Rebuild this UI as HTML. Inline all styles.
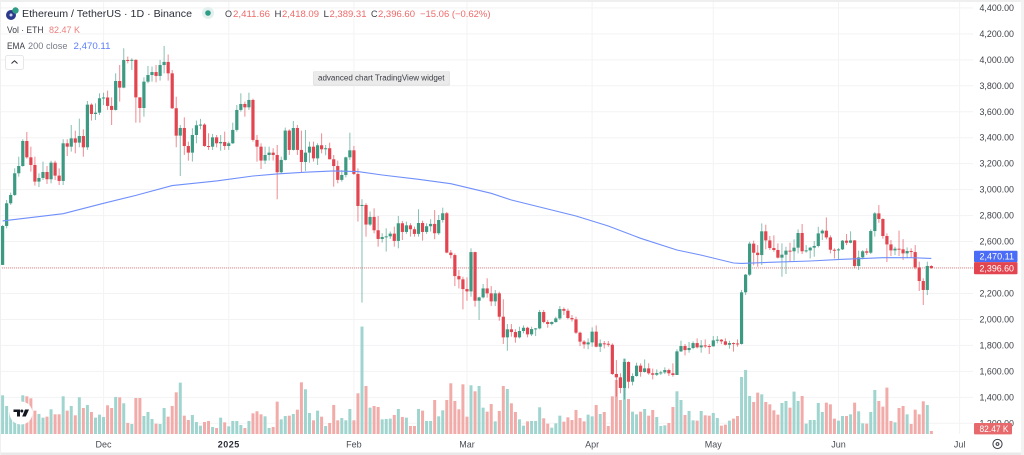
<!DOCTYPE html>
<html lang="en">
<head>
<meta charset="utf-8">
<title>Ethereum / TetherUS 1D chart</title>
<style>
html,body{margin:0;padding:0;background:#fff;width:1024px;height:455px;overflow:hidden}
svg{display:block;font-family:"Liberation Sans",sans-serif;filter:blur(0.3px)}
</style>
</head>
<body>
<svg id="chart" xmlns="http://www.w3.org/2000/svg" width="1024" height="455" viewBox="0 0 1024 455">
  <rect x="0" y="0" width="1024" height="455" fill="#ffffff"/>
  <g id="grid"></g>
  <g id="volumes"></g>
  <g id="priceline"></g>
  <g id="candles"></g>
  <g id="ema"></g>
  <g id="xaxis"></g>
  <g id="yaxis"></g>

  <g>
    <rect x="0" y="0" width="1024" height="2" fill="#efefef"/>
    <rect x="0" y="452.5" width="1024" height="2.5" fill="#e9e9e9"/>
    <rect x="0" y="0" width="1" height="455" fill="#f0f0f0"/>
    <rect x="1021" y="0" width="3" height="455" fill="#f3f3f3"/>
  </g>

  <g>
    <circle cx="11" cy="15" r="5" fill="#2c3a8c"/>
    <circle cx="15.5" cy="10.5" r="3.2" fill="#2f9c86"/>
    <circle cx="11" cy="15" r="1.5" fill="#cfd4ea"/>
  </g>
  <text x="22" y="17" font-size="10.5" fill="#2a2e39" textLength="170" lengthAdjust="spacingAndGlyphs">Ethereum / TetherUS · 1D · Binance</text>
  <circle cx="208" cy="13" r="6" fill="#e3f1ee"/>
  <circle cx="208" cy="13" r="2.8" fill="#2f9c86"/>

  <g font-size="9.5">
    <text x="225" y="17" fill="#3a3d45" textLength="7" lengthAdjust="spacingAndGlyphs">O</text>
    <text x="233" y="17" fill="#ee6a6a" textLength="37" lengthAdjust="spacingAndGlyphs">2,411.66</text>
    <text x="274.5" y="17" fill="#3a3d45" textLength="7" lengthAdjust="spacingAndGlyphs">H</text>
    <text x="282" y="17" fill="#ee6a6a" textLength="37" lengthAdjust="spacingAndGlyphs">2,418.09</text>
    <text x="323.5" y="17" fill="#3a3d45" textLength="5.5" lengthAdjust="spacingAndGlyphs">L</text>
    <text x="329.5" y="17" fill="#ee6a6a" textLength="37" lengthAdjust="spacingAndGlyphs">2,389.31</text>
    <text x="371" y="17" fill="#3a3d45" textLength="6.5" lengthAdjust="spacingAndGlyphs">C</text>
    <text x="378" y="17" fill="#ee6a6a" textLength="37" lengthAdjust="spacingAndGlyphs">2,396.60</text>
    <text x="420" y="17" fill="#ee6a6a" textLength="70.5" lengthAdjust="spacingAndGlyphs">−15.06 (−0.62%)</text>
  </g>

  <text x="7" y="33" font-size="9.5" fill="#3a3d45" textLength="36.5" lengthAdjust="spacingAndGlyphs">Vol · ETH</text>
  <text x="49" y="33" font-size="9.5" fill="#ee7f7f" textLength="31" lengthAdjust="spacingAndGlyphs">82.47 K</text>
  <text x="7" y="49" font-size="9.5" fill="#3a3d45" textLength="18" lengthAdjust="spacingAndGlyphs">EMA</text>
  <text x="28" y="49" font-size="9.5" fill="#787b86" textLength="39.5" lengthAdjust="spacingAndGlyphs">200 close</text>
  <text x="73.5" y="49" font-size="9.5" fill="#5a7dfb" textLength="37" lengthAdjust="spacingAndGlyphs">2,470.11</text>

  <g>
    <rect x="5.5" y="55.5" width="18" height="14" rx="2" fill="#ffffff" stroke="#e6e7ea"/>
    <path d="M11.5 63.5 L14.5 60.8 L17.5 63.5" fill="none" stroke="#2a2e39" stroke-width="1"/>
  </g>

  <g>
    <rect x="313" y="71" width="137" height="15" rx="2" fill="#e4e4e4"/>
    <rect x="314" y="71" width="135" height="13.5" rx="2" fill="#ebebeb"/>
    <text x="318" y="80.5" font-size="8" fill="#3a3d45" textLength="126.5" lengthAdjust="spacingAndGlyphs">advanced chart TradingView widget</text>
  </g>

  <g>
    <circle cx="21" cy="413" r="11.5" fill="#ffffff"/>
    <path d="M13.5 409.5 H20 V416.5 H17 V412 H13.5 Z" fill="#131722"/>
    <circle cx="21.8" cy="411" r="1.5" fill="#131722"/>
    <path d="M25 409.5 H29 L25.8 416.5 H22.2 Z" fill="#131722"/>
  </g>

  <g fill="none" stroke="#3a3d45">
    <circle cx="997.5" cy="444" r="4.6" stroke-width="1"/>
    <circle cx="997.5" cy="444" r="1.4" stroke-width="1"/>
  </g>
</svg>

<script>
const closes = [2720,2895,2959,3126,3182,3375,3249,3190,3062,3090,
3136,3080,3208,3108,3067,3357,3331,3395,3362,3413,
3326,3655,3583,3593,3704,3710,3645,3614,3837,3786,
3999,3994,4000,3711,3629,3832,3883,3906,3876,3960,
3984,3896,3627,3416,3475,3336,3285,3421,3496,3501,
3336,3331,3403,3357,3367,3336,3357,3460,3614,3660,
3634,3691,3383,3331,3224,3267,3285,3267,3134,3229,
3455,3306,3475,3306,3213,3285,3331,3241,3342,3311,
3319,3234,3182,3075,3113,3249,3303,3121,2874,2882,
2731,2790,2687,2620,2635,2640,2661,2605,2741,2674,
2725,2695,2659,2743,2674,2718,2736,2664,2766,2818,
2515,2496,2334,2309,2234,2216,2519,2144,2170,2239,
2201,2139,2201,2021,1862,1924,1903,1862,1911,1936,
1885,1926,1931,2057,1980,1965,1980,2008,2080,2067,
2011,2001,1898,1829,1808,1823,1906,1790,1816,1813,
1805,1580,1554,1472,1672,1520,1564,1644,1595,1623,
1585,1574,1587,1592,1610,1585,1572,1754,1795,1764,
1780,1818,1785,1800,1795,1793,1839,1844,1831,1805,
1818,1815,1811,2209,2345,2584,2514,2496,2679,2609,
2550,2535,2476,2499,2530,2525,2553,2666,2525,2532,
2553,2566,2663,2684,2632,2537,2532,2540,2607,2591,
2609,2412,2478,2525,2514,2681,2817,2774,2643,2578,
2532,2545,2540,2509,2527,2519,2401,2296,2227,2412,
2396.6];

const opens = [2420,2720,2895,2959,3126,3182,3375,3249,3190,3062,
3090,3136,3080,3208,3108,3067,3357,3331,3395,3362,
3413,3326,3655,3583,3593,3704,3710,3645,3614,3837,
3786,3999,3994,4000,3711,3629,3832,3883,3906,3876,
3960,3984,3896,3627,3416,3475,3336,3285,3421,3496,
3501,3336,3331,3403,3357,3367,3336,3357,3460,3614,
3660,3634,3691,3383,3331,3224,3267,3285,3267,3134,
3229,3455,3306,3475,3306,3213,3285,3331,3241,3342,
3311,3319,3234,3182,3075,3113,3249,3303,3121,2874,
2882,2731,2790,2687,2620,2635,2640,2661,2605,2741,
2674,2725,2695,2659,2743,2674,2718,2736,2664,2766,
2818,2515,2496,2334,2309,2234,2216,2519,2144,2170,
2239,2201,2139,2201,2021,1862,1924,1903,1862,1911,
1936,1885,1926,1931,2057,1980,1965,1980,2008,2080,
2067,2011,2001,1898,1829,1808,1823,1906,1790,1816,
1813,1805,1580,1554,1472,1672,1520,1564,1644,1595,
1623,1585,1574,1587,1592,1610,1585,1572,1754,1795,
1764,1780,1818,1785,1800,1795,1793,1839,1844,1831,
1805,1818,1815,1811,2209,2345,2584,2514,2496,2679,
2609,2550,2535,2476,2499,2530,2525,2553,2666,2525,
2532,2553,2566,2663,2684,2632,2537,2532,2540,2607,
2591,2609,2412,2478,2525,2514,2681,2817,2774,2643,
2578,2532,2545,2540,2509,2527,2519,2401,2296,2227,
2411.66];

const highs = [2728,2920,2977,3164,3254,3388,3444,3331,3254,3126,
3216,3182,3223,3223,3164,3388,3388,3498,3454,3547,
3465,3683,3665,3665,3742,3747,3763,3711,3896,3960,
4089,4025,4012,4004,3711,3865,3953,3948,3960,3999,
4107,4041,3922,3716,3498,3557,3370,3473,3532,3545,
3511,3434,3429,3421,3421,3447,3370,3516,3652,3742,
3678,3747,3701,3421,3357,3331,3331,3319,3344,3254,
3478,3465,3529,3498,3455,3460,3370,3370,3357,3434,
3344,3362,3267,3224,3152,3254,3439,3337,3164,2926,
2895,2831,2856,2797,2664,2702,2677,2715,2797,2759,
2754,2741,2715,2849,2761,2741,2772,2843,2805,2861,
2828,2535,2509,2381,2329,2324,2548,2522,2175,2273,
2317,2257,2227,2214,2155,1965,1965,1924,1944,1954,
1944,1944,1934,2073,2073,1995,1985,2021,2103,2093,
2083,2034,2021,1906,1841,1854,1939,1954,1846,1834,
1834,1816,1687,1585,1698,1677,1585,1667,1662,1692,
1662,1621,1615,1605,1631,1621,1662,1770,1836,1811,
1826,1831,1854,1841,1846,1810,1872,1872,1849,1854,
1836,1823,1846,2227,2350,2599,2607,2573,2740,2730,
2643,2648,2586,2586,2560,2591,2617,2694,2735,2573,
2560,2604,2714,2694,2786,2648,2548,2550,2612,2658,
2679,2612,2530,2535,2548,2694,2827,2881,2779,2663,
2612,2560,2684,2619,2555,2548,2573,2445,2317,2445,
2418.09];

const lows = [2420,2702,2882,2951,3100,3177,3239,3139,3031,3020,
3074,3044,3049,3074,3036,3036,3259,3293,3280,3326,
3254,3306,3532,3537,3575,3652,3614,3498,3609,3678,
3781,3973,3922,3516,3516,3562,3819,3832,3827,3840,
3896,3840,3621,3326,3105,3267,3223,3216,3357,3465,
3331,3306,3306,3326,3300,3306,3306,3352,3447,3601,
3562,3614,3370,3216,3159,3198,3224,3224,2926,3126,
3224,3267,3301,3267,3134,3144,3208,3216,3190,3280,
3265,3234,3023,3049,3062,3095,3229,3113,2754,2130,
2638,2720,2664,2561,2592,2523,2620,2561,2548,2612,
2659,2638,2638,2638,2607,2659,2677,2618,2651,2746,
2510,2471,2257,2239,2078,2144,2175,2098,1996,2162,
2168,2103,2103,1990,1811,1759,1867,1821,1854,1893,
1862,1872,1872,1924,1970,1936,1954,1975,1996,2034,
2001,1983,1888,1795,1775,1770,1790,1785,1749,1777,
1790,1572,1405,1431,1384,1469,1492,1559,1559,1590,
1574,1538,1564,1572,1579,1564,1559,1572,1749,1723,
1744,1770,1777,1744,1780,1734,1790,1816,1810,1800,
1775,1752,1790,1806,2188,2335,2417,2406,2419,2540,
2535,2522,2470,2329,2350,2445,2453,2509,2504,2514,
2470,2483,2555,2612,2617,2509,2470,2458,2535,2573,
2586,2394,2381,2463,2496,2504,2638,2745,2622,2442,
2489,2496,2489,2458,2471,2478,2386,2219,2111,2188,
2389.31];

const volumesK = [1064,770,596,596,706,1064,1036,981,642,550,
449,477,679,541,541,1036,642,770,514,1009,
715,798,605,449,532,468,789,715,1018,1009,
844,303,275,990,990,495,605,413,284,275,
715,477,770,1146,1412,504,385,523,330,229,
330,358,193,165,449,321,211,358,358,248,
165,358,569,624,541,486,165,193,890,403,
495,504,550,669,1421,1229,578,376,642,477,
220,303,798,376,440,376,688,376,1119,2953,
1320,724,770,743,403,413,422,523,688,468,
449,220,220,688,642,358,358,935,486,651,
935,1394,908,679,1366,477,1339,1174,1320,724,
614,825,348,633,1320,1238,844,605,403,229,
348,358,358,734,431,284,174,293,504,339,
459,385,660,440,348,532,486,798,550,605,
220,1036,1486,935,2072,963,614,541,614,688,
504,660,468,220,238,303,743,1174,935,523,
633,376,367,633,514,504,578,440,229,257,
367,422,495,1568,1761,1045,880,1137,1091,880,
816,651,532,853,908,724,1165,908,1045,284,
385,385,853,605,862,816,422,367,495,495,
541,862,624,293,284,605,1210,908,752,1275,
358,321,715,770,541,275,669,541,899,798,
82.47];

const emaDays = [0,15,25,33,42,53,62,68,75,82,88,94,103,111,121,126,142,150,158,167,173,181,183,190,200,208,218,225,230];
const emaValues = [2759,2815,2895,2956,3031,3067,3105,3121,3134,3144,3139,3113,3080,3046,2972,2920,2797,2720,2625,2535,2496,2435,2432,2440,2450,2463,2476,2476,2470.11];

const priceTicks = [4400,4200,4000,3800,3600,3400,3200,3000,2800,2600,2400,2200,2000,1800,1600,1400,1200];
const monthLabels = ["Dec","2025","Feb","Mar","Apr","May","Jun","Jul"];
const monthDays = [25,56,87,115,146,176,207,237];

const lastClose = closes[closes.length - 1];
const lastEma = emaValues[emaValues.length - 1];
const lastVolumeLabel = "82.47 K";

const NS = "http://www.w3.org/2000/svg";
const PLOT_RIGHT = 973;
const VOL_BASE = 434;

function xScale(i) { return 2.6 + 4.038 * i; }
function yScale(p) { return 215.6 + (2800 - p) * 0.1298; }
function volScale(v) { return v / 27.49; }
function fmtPrice(p) { return p.toLocaleString("en-US", { minimumFractionDigits: 2, maximumFractionDigits: 2 }); }

function mk(tag, parent, props, txt) {
  const el = document.createElementNS(NS, tag);
  for (const k in props) el.setAttribute(k, props[k]);
  if (txt !== undefined) el.textContent = txt;
  parent.appendChild(el);
  return el;
}

const gridG = document.getElementById("grid");
const volG = document.getElementById("volumes");
const lineG = document.getElementById("priceline");
const candleG = document.getElementById("candles");
const emaG = document.getElementById("ema");
const xG = document.getElementById("xaxis");
const yG = document.getElementById("yaxis");

priceTicks.forEach(function (p) {
  const y = yScale(p);
  const g = mk("line", gridG, { x1: 0, x2: PLOT_RIGHT, y1: y, y2: y, stroke: "#f3f3f4", "stroke-width": 1 });
  
  
  const t = mk("text", yG, { x: 979.5, y: y + 3, "font-size": 9, fill: "#3f424a", textLength: 34.5, lengthAdjust: "spacingAndGlyphs" }, fmtPrice(p));
  
  
});

monthLabels.forEach(function (label, k) {
  const x = xScale(monthDays[k]);
  const g = mk("line", gridG, { x1: x, x2: x, y1: 2, y2: 434, stroke: "#f3f3f4", "stroke-width": 1 });
  
  
  const bold = label === "2025";
  const t = mk("text", xG, { x: x, y: 447.5, "font-size": 9, "text-anchor": "middle", fill: bold ? "#2a2e39" : "#4a4d55", "font-weight": bold ? "bold" : "normal", "letter-spacing": bold ? 0.5 : 0 }, label);
  
  
});

closes.forEach(function (c, i) {
  const up = c >= opens[i];
  const bar = volScale(volumesK[i]);
  const v = mk("rect", volG, { x: xScale(i) - 1.5, y: VOL_BASE - bar, width: 3, height: bar, fill: up ? "#a0d5cf" : "#f1acaa" });
  
  
});

const pl = mk("line", lineG, { x1: 0, x2: PLOT_RIGHT, y1: yScale(lastClose), y2: yScale(lastClose), stroke: "#ea8a8a", "stroke-width": 1, "stroke-dasharray": "1 1" });



closes.forEach(function (c, i) {
  const o = opens[i];
  const up = c >= o;
  const col = up ? "#3d9a82" : "#e2454f";
  const x = xScale(i);
  const wick = mk("rect", candleG, { x: x - 0.5, y: yScale(highs[i]), width: 1, height: Math.max(yScale(lows[i]) - yScale(highs[i]), 0.5), fill: col, opacity: 0.62 });
  
  
  const top = yScale(Math.max(o, c));
  const body = mk("rect", candleG, { x: x - 1.6, y: top, width: 3.2, height: Math.max(yScale(Math.min(o, c)) - top, 1), fill: col });
  
  
});

const emaPts = emaDays.map(function (d, k) { return xScale(d).toFixed(1) + "," + yScale(emaValues[k]).toFixed(1); }).join(" ");
const emaLine = mk("polyline", emaG, { points: emaPts, fill: "none", stroke: "#6f8ffb", "stroke-width": 1.1 });



const emaBox = mk("rect", yG, { x: 974, y: 250.7, width: 43.5, height: 11.4, rx: 1, fill: "#4a6cf7" });


const emaText = mk("text", yG, { x: 979.5, y: 259.6, "font-size": 9, fill: "#ffffff", textLength: 34.5, lengthAdjust: "spacingAndGlyphs" }, fmtPrice(lastEma));



const lastBox = mk("rect", yG, { x: 974, y: 262.1, width: 43.5, height: 12.2, rx: 1, fill: "#e2454f" });


const lastText = mk("text", yG, { x: 979.5, y: 271.4, "font-size": 9, fill: "#ffffff", textLength: 34.5, lengthAdjust: "spacingAndGlyphs" }, fmtPrice(lastClose));



const volBox = mk("rect", yG, { x: 974, y: 423, width: 38, height: 11.4, rx: 1, fill: "#e8696b" });


const volText = mk("text", yG, { x: 979.5, y: 432, "font-size": 9, fill: "#ffffff", textLength: 29, lengthAdjust: "spacingAndGlyphs" }, lastVolumeLabel);


</script>
</body>
</html>
